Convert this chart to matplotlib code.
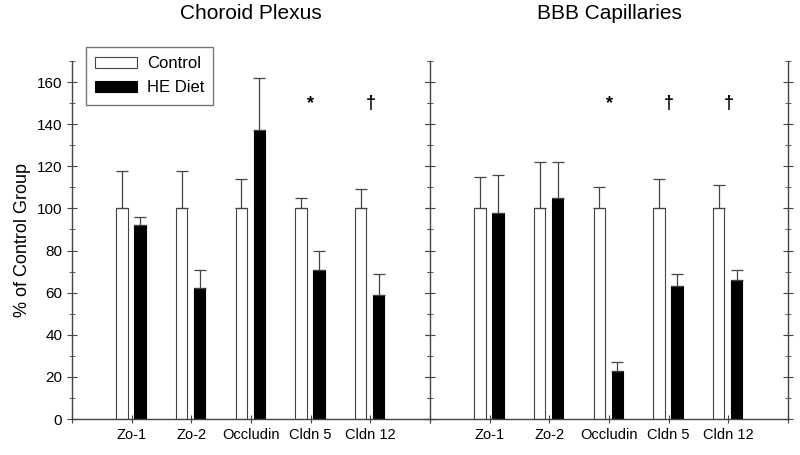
import numpy as np
from matplotlib import pyplot as plt
from matplotlib.ticker import MultipleLocator

plt.rcParams['font.family'] = ['Liberation Sans', 'DejaVu Sans']

genes = ["Zo-1", "Zo-2", "Occludin", "Cldn 5", "Cldn 12"]
panels = ["Choroid Plexus", "BBB Capillaries"]

# % of control group, mean and upper error
cp_control = [100, 100, 100, 100, 100]
cp_control_err = [18, 18, 14, 5, 9]
cp_diet = [92, 62, 137, 71, 59]
cp_diet_err = [4, 9, 25, 9, 10]

bbb_control = [100, 100, 100, 100, 100]
bbb_control_err = [15, 22, 10, 14, 11]
bbb_diet = [98, 105, 23, 63, 66]
bbb_diet_err = [18, 17, 4, 6, 5]

# significance marks (gene index, symbol)
cp_marks = [(3, "*"), (4, "\u2020")]
bbb_marks = [(2, "*"), (3, "\u2020"), (4, "\u2020")]
mark_y = 150

fig = plt.figure(figsize=(8, 4.55), dpi=100)
ax1 = fig.add_axes([0.09, 0.079, 0.4475, 0.787])
ax2 = fig.add_axes([0.5375, 0.079, 0.4475, 0.787])

data = [
    (ax1, cp_control, cp_control_err, cp_diet, cp_diet_err, cp_marks),
    (ax2, bbb_control, bbb_control_err, bbb_diet, bbb_diet_err, bbb_marks),
]

x = np.arange(1, len(genes) + 1)
w = 0.19
for i, (ax, c, ce, d, de, marks) in enumerate(data):
    ax.bar(x - 0.16, c, width=w, color='white', edgecolor='#444444',
           linewidth=0.8, label="Control")
    ax.bar(x + 0.14, d, width=w, color='black', edgecolor='black',
           linewidth=0.8, label="HE Diet")
    ax.errorbar(x - 0.16, c, yerr=[np.zeros(len(c)), ce], fmt='none',
                ecolor='#444444', elinewidth=0.9, capsize=4, capthick=0.9)
    ax.errorbar(x + 0.14, d, yerr=[np.zeros(len(d)), de], fmt='none',
                ecolor='#444444', elinewidth=0.9, capsize=4, capthick=0.9)
    for gi, sym in marks:
        ax.text(x[gi], mark_y, sym, ha='center', va='center', fontsize=13,
                fontweight='bold')

    ax.set_xlim(0, 6)
    ax.set_ylim(0, 170)
    ax.set_xticks(np.arange(0, 7))
    ax.set_xticklabels([""] + genes + [""], fontsize=10.5)
    ax.yaxis.set_major_locator(MultipleLocator(20))
    ax.yaxis.set_minor_locator(MultipleLocator(10))
    ax.set_title(panels[i], fontsize=15, pad=30)
    ax.spines['top'].set_visible(False)
    for s in ['left', 'right', 'bottom']:
        ax.spines[s].set_color('#444444')
        ax.spines[s].set_linewidth(1.0)
    ax.tick_params(axis='x', direction='inout', length=6, color='#444444')
    ax.tick_params(axis='y', which='major', direction='inout', length=7,
                   color='#444444', right=True, labelsize=11)
    ax.tick_params(axis='y', which='minor', direction='inout', length=4,
                   color='#444444', right=True)

ax2.tick_params(axis='y', labelleft=False)
ax1.spines['right'].set_visible(False)
ax1.set_ylabel("% of Control Group", fontsize=13)

leg = fig.legend(*ax1.get_legend_handles_labels(), loc='upper left',
                 bbox_to_anchor=(0.1075, 0.8967), fontsize=12,
                 frameon=True, fancybox=False, edgecolor='#555555',
                 handlelength=2.5, handleheight=0.6, handletextpad=0.6,
                 borderpad=0.55, labelspacing=0.55, borderaxespad=0)
leg.get_frame().set_linewidth(1.0)

fig.savefig("out.png", dpi=100)
